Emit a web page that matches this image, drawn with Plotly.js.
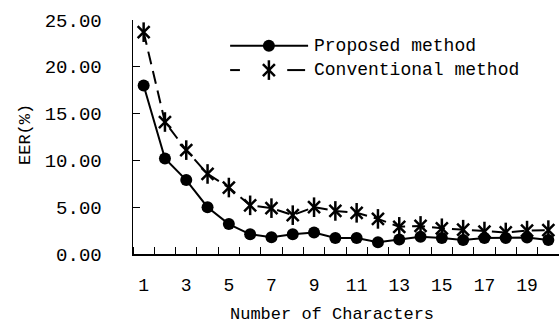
<!DOCTYPE html>
<html><head><meta charset="utf-8">
<script src="https://cdn.plot.ly/plotly-3.0.1.min.js"></script>
<style>html,body{margin:0;padding:0;background:#fff}#chart{width:559px;height:324px}</style>
</head><body><div id="chart"></div>
<script>
const characters = [1,2,3,4,5,6,7,8,9,10,11,12,13,14,15,16,17,18,19,20];
const proposed = [18.0,10.2,7.9,5.0,3.2,2.1,1.8,2.1,2.3,1.7,1.7,1.25,1.55,1.85,1.7,1.5,1.7,1.7,1.75,1.5];
const conventional = [23.7,14.1,11.1,8.55,7.1,5.2,4.9,4.15,5.0,4.6,4.4,3.75,2.9,3.0,2.75,2.6,2.4,2.3,2.5,2.55];
const xTickLabels = ['1','3','5','7','9','11','13','15','17','19'];
const xTickVals = [1,3,5,7,9,11,13,15,17,19];
const yTickVals = [0,5,10,15,20,25];
const names = ['Proposed method','Conventional method'];

const FONT = '"Liberation Mono", "DejaVu Sans Mono", monospace';
const K = '#000';
const traces = [
  {x: characters, y: proposed, mode:'lines+markers', line:{color:K, width:2},
   marker:{symbol:'circle', size:12, color:K, line:{width:0, color:K}}, showlegend:false, cliponaxis:false},
  {x: characters, y: conventional, mode:'lines+markers', line:{color:K, width:2, dash:'13px,7px'},
   marker:{symbol:'x-thin-open', size:12, color:K, line:{color:K, width:2.5}}, showlegend:false, cliponaxis:false},
  {x: characters, y: conventional, mode:'markers',
   marker:{symbol:'line-ns-open', size:14, color:K, line:{color:K, width:2.5}}, showlegend:false, cliponaxis:false},
  // legend samples on an overlay axis
  {x:[0.228,0.411], y:[0.89,0.89], xaxis:'x2', yaxis:'y2', mode:'lines',
   line:{color:K, width:2}, showlegend:false, hoverinfo:'skip'},
  {x:[0.319], y:[0.89], xaxis:'x2', yaxis:'y2', mode:'markers',
   marker:{symbol:'circle', size:12, color:K, opacity:1, line:{width:0, color:K}}, showlegend:false, hoverinfo:'skip'},
  {x:[0.228,0.251,null,0.362,0.404], y:[0.786,0.786,null,0.786,0.786], xaxis:'x2', yaxis:'y2', mode:'lines',
   line:{color:K, width:2}, showlegend:false, hoverinfo:'skip'},
  {x:[0.319], y:[0.786], xaxis:'x2', yaxis:'y2', mode:'markers',
   marker:{symbol:'x-thin-open', size:12, color:K, line:{color:K, width:2.5}}, showlegend:false, hoverinfo:'skip'},
  {x:[0.319], y:[0.786], xaxis:'x2', yaxis:'y2', mode:'markers',
   marker:{symbol:'line-ns-open', size:14, color:K, line:{color:K, width:2.5}}, showlegend:false, hoverinfo:'skip'}
];

const layout = {
  width:559, height:324,
  margin:{l:133, r:0, t:20, b:70},
  paper_bgcolor:'#fff', plot_bgcolor:'#fff',
  font:{family:FONT, size:18, color:K},
  showlegend:false,
  xaxis:{range:[0.5,20.5], tickmode:'array', tickvals:xTickVals, ticktext:xTickLabels,
    ticks:'', showgrid:false, zeroline:false, showline:true, linecolor:K, linewidth:1.5,
    ticklabelstandoff:14, tickfont:{family:FONT, size:18},
    minor:{tick0:0.5, dtick:1, ticks:'inside', ticklen:7, tickcolor:K, tickwidth:1, showgrid:false}},
  yaxis:{range:[0,25], tickmode:'array', tickvals:yTickVals, tickformat:'.2f',
    ticks:'inside', ticklen:7, tickcolor:K, showgrid:false, zeroline:false,
    showline:true, linecolor:K, linewidth:1.5, ticklabelstandoff:26, tickfont:{family:FONT, size:19}},
  xaxis2:{overlaying:'x', range:[0,1], visible:false, fixedrange:true},
  yaxis2:{overlaying:'y', range:[0,1], visible:false, fixedrange:true},
  annotations:[
    {text:'Number of Characters', xref:'paper', yref:'paper', x:(332-133)/426, y:(254-314)/234,
     xanchor:'center', yanchor:'middle', showarrow:false, font:{family:FONT, size:17}},
    {text:'EER(%)', xref:'paper', yref:'paper', x:(25-133)/426, y:(254-135)/234,
     xanchor:'center', yanchor:'middle', textangle:-90, showarrow:false, font:{family:FONT, size:17}},
    {text:names[0], xref:'paper', yref:'paper', x:(312-133)/426, y:(254-45.7)/234,
     xanchor:'left', yanchor:'middle', showarrow:false, font:{family:FONT, size:18}},
    {text:names[1], xref:'paper', yref:'paper', x:(312-133)/426, y:(254-70)/234,
     xanchor:'left', yanchor:'middle', showarrow:false, font:{family:FONT, size:18}}
  ]
};
Plotly.newPlot('chart', traces, layout, {staticPlot:true, displayModeBar:false});
</script></body></html>
